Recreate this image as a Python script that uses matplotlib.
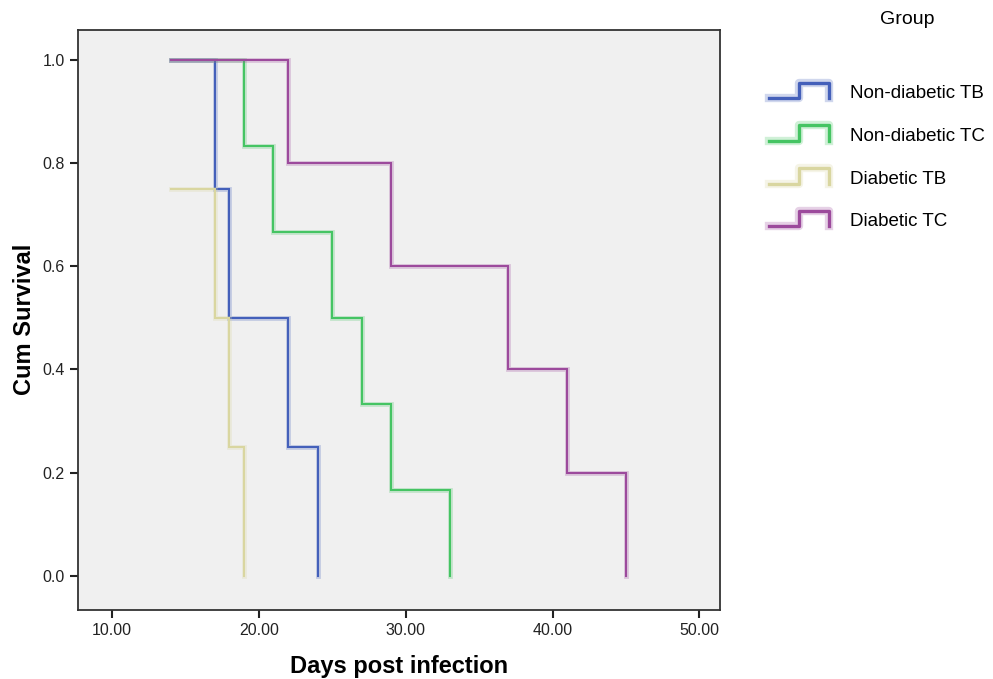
import matplotlib
matplotlib.use("Agg")
import matplotlib.pyplot as plt
from matplotlib.legend_handler import HandlerBase
from matplotlib.lines import Line2D

plt.rcParams['font.family'] = ['Liberation Sans', 'DejaVu Sans']

groups = ['Non-diabetic TB', 'Non-diabetic TC', 'Diabetic TB', 'Diabetic TC']
colors = ['#4460BA', '#45C463', '#D9D6A0', '#9C4A9C']

# step curves: time points and survival values
nd_tb_t = [14, 17, 17, 18, 18, 22, 22, 24, 24]
nd_tb_s = [1.0, 1.0, 0.75, 0.75, 0.5, 0.5, 0.25, 0.25, 0.0]
nd_tc_t = [14, 19, 19, 21, 21, 25, 25, 27, 27, 29, 29, 33, 33]
nd_tc_s = [1.0, 1.0, 0.833, 0.833, 0.667, 0.667, 0.5, 0.5, 0.333, 0.333, 0.167, 0.167, 0.0]
d_tb_t = [14, 17, 17, 18, 18, 19, 19]
d_tb_s = [0.75, 0.75, 0.5, 0.5, 0.25, 0.25, 0.0]
d_tc_t = [14, 22, 22, 29, 29, 37, 37, 41, 41, 45, 45]
d_tc_s = [1.0, 1.0, 0.8, 0.8, 0.6, 0.6, 0.4, 0.4, 0.2, 0.2, 0.0]

curves = [(nd_tb_t, nd_tb_s), (nd_tc_t, nd_tc_s), (d_tb_t, d_tb_s), (d_tc_t, d_tc_s)]
x_ticks = [10, 20, 30, 40, 50]
y_ticks = [0.0, 0.2, 0.4, 0.6, 0.8, 1.0]


class StepHandler(HandlerBase):
    def create_artists(self, legend, orig_handle, xdescent, ydescent,
                       width, height, fontsize, trans):
        c = orig_handle.get_color()
        xs = [0, 0.5 * width, 0.5 * width, width, width]
        ys = [0.0, 0.0, height, height, 0.0]
        halo = Line2D(xs, ys, color=c, lw=6, alpha=0.25, transform=trans)
        core = Line2D(xs, ys, color=c, lw=2.4, transform=trans)
        return [halo, core]


fig = plt.figure(figsize=(9.93, 6.79), dpi=100)
ax = fig.add_axes([0.0786, 0.102, 0.6465, 0.854])
ax.set_facecolor('#F0F0F0')

handles = []
for (t, s), c, g in zip(curves, colors, groups):
    ax.plot(t, s, color=c, lw=3.5, alpha=0.25, solid_joinstyle='miter')
    ax.plot(t, s, color=c, lw=1.5, solid_joinstyle='miter')
    handles.append(Line2D([], [], color=c, label=g))

ax.set_xlim(7.7, 51.4)
ax.set_ylim(-0.066, 1.058)
ax.set_xticks(x_ticks)
ax.set_xticklabels(['%.2f' % v for v in x_ticks])
ax.set_yticks(y_ticks)
ax.set_yticklabels(['%.1f' % v for v in y_ticks])
ax.tick_params(axis='both', labelsize=11.5, length=6, width=1.5, colors='#222222')
for sp in ax.spines.values():
    sp.set_linewidth(1.3)
    sp.set_color('#333333')

ax.set_xlabel('Days post infection', fontsize=17, fontweight='bold', labelpad=12)
ax.set_ylabel('Cum Survival', fontsize=17, fontweight='bold', labelpad=5)

fig.text(0.914, 0.972, 'Group', fontsize=14, ha='center', va='center')
fig.legend(handles=handles, handler_map={Line2D: StepHandler()},
           loc='upper left', bbox_to_anchor=(0.765, 0.89), frameon=False,
           borderpad=0, fontsize=13.5, handlelength=3.2, handleheight=0.9,
           handletextpad=1.1, labelspacing=1.3)

fig.savefig('out.png', dpi=100)
